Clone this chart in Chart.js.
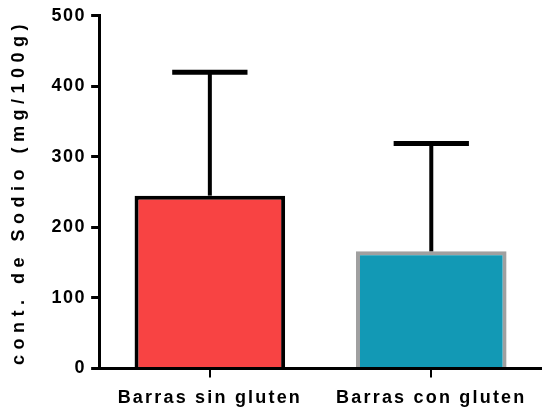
<!DOCTYPE html>
<html lang="es">
<head>
    <meta charset="UTF-8">
    <title>Sodio en barras</title>
    <script src="https://cdn.jsdelivr.net/npm/chart.js"></script>
    <style>
        html, body { margin: 0; padding: 0; background: #fff; }
        #chart-container { width: 542px; height: 413px; }
    </style>
</head>
<body>
    <div id="chart-container">
        <canvas id="chart"></canvas>
    </div>
    <script>
        // Datos
        const categorias = ['Barras sin gluten', 'Barras con gluten'];
        const medias = [245, 166];
        const desvios = [175, 153];
        const rellenos = ['#F84343', '#1299B5'];
        const bordes = ['#000000', '#A0A0A0'];
        const ticksY = [0, 100, 200, 300, 400, 500];

        const fuente = 'Liberation Sans, Arial, sans-serif';

        // envuelve un método de dibujo de la escala con otro espaciado de letras
        function conEspaciado(escala, metodo, valor) {
            const original = escala[metodo].bind(escala);
            escala[metodo] = function () {
                const c = this.ctx;
                const prev = c.letterSpacing;
                c.letterSpacing = valor;
                original(...arguments);
                c.letterSpacing = prev;
            };
        }

        const espaciado = {
            id: 'espaciado',
            beforeLayout(chart) { chart.ctx.letterSpacing = '1.5px'; },
            beforeDraw(chart) {
                chart.ctx.letterSpacing = '1.5px';
                const { x, y } = chart.scales;
                if (y && !y._parcheado) {
                    conEspaciado(y, 'drawTitle', '5.5px');
                    y._parcheado = true;
                }
                if (x && !x._parcheado) {
                    conEspaciado(x, 'drawLabels', '2.2px');
                    x._parcheado = true;
                }
            }
        };

        // Barras de error (solo hacia arriba)
        const barrasError = {
            id: 'barrasError',
            afterDatasetsDraw(chart) {
                const ctx = chart.ctx;
                const meta = chart.getDatasetMeta(0);
                const y = chart.scales.y;
                ctx.save();
                ctx.strokeStyle = '#000';
                meta.data.forEach((bar, i) => {
                    const yTop = y.getPixelForValue(medias[i] + desvios[i]);
                    const yBase = y.getPixelForValue(medias[i]);
                    const capHalf = bar.width * 0.25;
                    ctx.lineWidth = 4;
                    ctx.beginPath();
                    ctx.moveTo(bar.x, yBase);
                    ctx.lineTo(bar.x, yTop);
                    ctx.stroke();
                    ctx.lineWidth = 5;
                    ctx.beginPath();
                    ctx.moveTo(bar.x - capHalf, yTop);
                    ctx.lineTo(bar.x + capHalf, yTop);
                    ctx.stroke();
                });
                ctx.restore();
            }
        };

        const ctx = document.getElementById('chart').getContext('2d');
        new Chart(ctx, {
            type: 'bar',
            data: {
                labels: categorias,
                datasets: [{
                    data: medias,
                    backgroundColor: rellenos,
                    borderColor: bordes,
                    borderWidth: 4,
                    borderSkipped: 'bottom',
                    barPercentage: 0.68,
                    categoryPercentage: 1
                }]
            },
            options: {
                responsive: true,
                maintainAspectRatio: false,
                animation: false,
                layout: { padding: { top: 4, left: 8, right: 0, bottom: -6 } },
                plugins: {
                    legend: { display: false },
                    tooltip: { enabled: false }
                },
                scales: {
                    x: {
                        offset: true,
                        grid: {
                            display: true,
                            offset: false,
                            drawOnChartArea: false,
                            tickLength: 9,
                            lineWidth: 2,
                            color: '#000'
                        },
                        border: { display: true, color: '#000', width: 3 },
                        ticks: {
                            color: '#000',
                            padding: 10,
                            font: { family: fuente, size: 18, weight: 'bold' }
                        }
                    },
                    y: {
                        min: 0,
                        max: 500,
                        afterBuildTicks(axis) { axis.ticks = ticksY.map(v => ({ value: v })); },
                        grid: {
                            display: true,
                            drawOnChartArea: false,
                            tickLength: 8,
                            lineWidth: 3,
                            color: '#000'
                        },
                        border: { display: true, color: '#000', width: 3 },
                        ticks: {
                            color: '#000',
                            padding: 5,
                            font: { family: fuente, size: 18, weight: 'bold' }
                        },
                        title: {
                            display: true,
                            text: 'cont. de Sodio (mg/100g)',
                            color: '#000',
                            padding: { top: 0, bottom: 17 },
                            font: { family: fuente, size: 18, weight: 'bold' }
                        }
                    }
                }
            },
            plugins: [espaciado, barrasError]
        });
    </script>
</body>
</html>
